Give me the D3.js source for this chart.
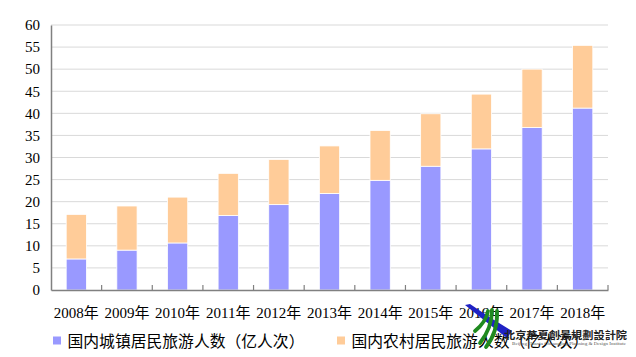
<!DOCTYPE html>
<html>
<head>
<meta charset="utf-8">
<script src="https://cdn.jsdelivr.net/npm/d3@7/dist/d3.min.js"></script>
<style>
  html, body { margin: 0; padding: 0; background: #fff; }
  svg { display: block; }
</style>
</head>
<body>
<svg id="chart" width="636" height="357"></svg>
<script>
// ---- data ----
const years = ["2008年","2009年","2010年","2011年","2012年","2013年","2014年","2015年","2016年","2017年","2018年"];
const urban = [7.03, 9.03, 10.65, 16.87, 19.33, 21.86, 24.83, 28.02, 31.95, 36.77, 41.19];
const rural = [10.09, 9.99, 10.38, 9.54, 10.24, 10.76, 11.28, 11.88, 12.40, 13.24, 14.20];
const seriesNames = ["国内城镇居民旅游人数（亿人次）", "国内农村居民旅游人数（亿人次）"];
const yTicks = [0,5,10,15,20,25,30,35,40,45,50,55,60];

// ---- layout ----
const plotL = 51, plotR = 608, plotT = 25, plotB = 290;
const colors = ["#9999FF", "#FFCC99"];
const serif = "'Liberation Serif','Times New Roman','Noto Sans CJK SC',serif";
const cjk = "'Noto Sans CJK SC','Noto Sans CJK JP',sans-serif";

const svg = d3.select("#chart");

const x = d3.scaleBand().domain(years).range([plotL, plotR]).padding(0);
const y = d3.scaleLinear().domain([0, 60]).range([plotB, plotT]);

// gridlines
svg.append("g").selectAll("line").data(yTicks.filter(d => d > 0)).join("line")
  .attr("x1", plotL).attr("x2", plotR)
  .attr("y1", d => y(d)).attr("y2", d => y(d))
  .attr("stroke", "#d9d9d9").attr("stroke-width", 1);

// stacked bars
const stackData = years.map((yr, i) => ({ year: yr, urban: urban[i], rural: rural[i] }));
const stack = d3.stack().keys(["urban", "rural"])(stackData);
const barW = x.bandwidth() * 0.4;
svg.append("g").selectAll("g").data(stack).join("g")
  .attr("fill", (d, i) => colors[i])
  .selectAll("rect").data(d => d).join("rect")
  .attr("x", d => x(d.data.year) + (x.bandwidth() - barW) / 2)
  .attr("width", barW)
  .attr("y", d => y(d[1]))
  .attr("height", d => y(d[0]) - y(d[1]))
  .attr("stroke", "#ffffff").attr("stroke-width", 0.8);

// y axis
const yAxis = svg.append("g").attr("transform", `translate(${plotL},0)`)
  .call(d3.axisLeft(y).tickValues(yTicks).tickSize(0).tickPadding(11));
yAxis.select(".domain").attr("stroke", "#808080").attr("stroke-width", 1.5);
yAxis.selectAll("text").attr("font-family", serif).attr("font-size", 15).attr("fill", "#000");

// x axis
const xAxis = svg.append("g").attr("transform", `translate(0,${plotB})`)
  .call(d3.axisBottom(x).tickSize(0).tickPadding(17));
xAxis.select(".domain").attr("stroke", "#808080").attr("stroke-width", 1.5);
xAxis.selectAll("text").attr("font-family", serif).attr("font-size", 15).attr("fill", "#000");

// category boundary ticks (pointing up)
const bounds = years.map(d => x(d)).concat([x(years[years.length - 1]) + x.bandwidth()]);
svg.append("g").selectAll("line").data(bounds.slice(1)).join("line")
  .attr("x1", d => d).attr("x2", d => d)
  .attr("y1", plotB).attr("y2", plotB - 5)
  .attr("stroke", "#808080").attr("stroke-width", 1.2);

// legend
const legendX = [53, 337];
const lg = svg.append("g");
seriesNames.forEach((name, i) => {
  lg.append("rect").attr("x", legendX[i]).attr("y", 336.5).attr("width", 8).attr("height", 8)
    .attr("fill", colors[i]);
  lg.append("text").attr("x", legendX[i] + 14.5).attr("y", 340.5)
    .attr("dominant-baseline", "central")
    .attr("font-family", cjk).attr("font-size", 15.8).attr("fill", "#000")
    .text(name);
});

// watermark logo
const wm = svg.append("g");
wm.append("path")
  .attr("d", "M465,305 L470,304 Q490,318 512,331 L507,338 Q486,322 465,305 Z")
  .attr("fill", "#1f22c4");
const greens = [
  "M488,311 Q486,322 475,331",
  "M492,310 Q492,328 480,343",
  "M497,311 Q498,332 486,347"
];
greens.forEach(d => {
  wm.append("path").attr("d", d)
    .attr("fill", "none").attr("stroke", "#1f8a1f").attr("stroke-width", 3.8).attr("stroke-linecap", "round");
});
wm.append("text").attr("x", 504).attr("y", 339)
  .attr("font-family", cjk).attr("font-size", 10.5).attr("font-weight", "bold").attr("fill", "#222")
  .attr("textLength", 123).attr("lengthAdjust", "spacingAndGlyphs")
  .text("北京華夏創景規劃設計院");
wm.append("text").attr("x", 512).attr("y", 345)
  .attr("font-family", serif).attr("font-size", 3.5).attr("fill", "#555")
  .attr("textLength", 114).attr("lengthAdjust", "spacingAndGlyphs")
  .text("Beijing Huaxia Chuangjing Planning & Design Institute");
</script>
</body>
</html>
